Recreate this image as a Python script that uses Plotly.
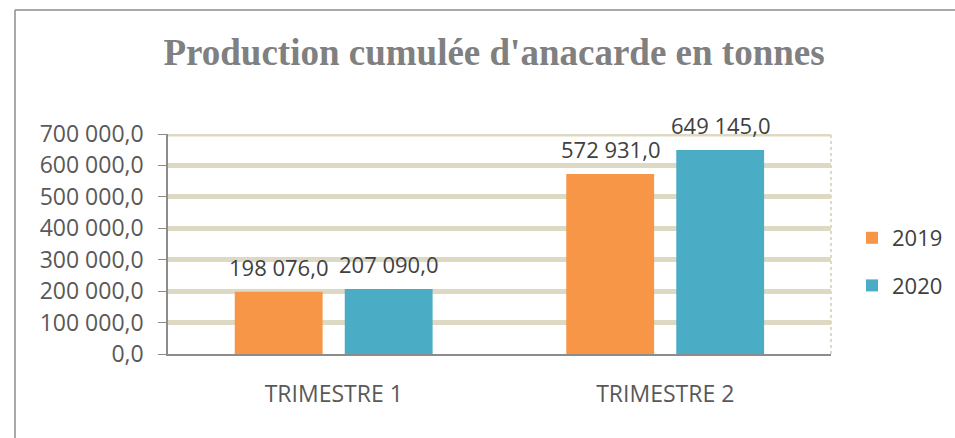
import plotly.graph_objects as go

categories = ["TRIMESTRE 1", "TRIMESTRE 2"]
series_names = ["2019", "2020"]
values_2019 = [198076.0, 572931.0]
values_2020 = [207090.0, 649145.0]
y_ticks = [0, 100000, 200000, 300000, 400000, 500000, 600000, 700000]

W, H = 955, 438
L, R, T, B = 168, 831, 134, 354

colors = ["#F79646", "#4BACC6"]
offsets = [-0.2986, 0.0332]
bar_w = 0.265
grid_color = "#DDD9C3"

fig = go.Figure()
annotations = []
for name, vals, col, off in zip(series_names, [values_2019, values_2020], colors, offsets):
    fig.add_trace(go.Bar(
        x=categories, y=vals, name=name, marker_color=col, marker_line_width=0,
        width=bar_w, offset=off, legendgroup=name,
    ))
    for i, v in enumerate(vals):
        annotations.append(dict(
            x=i + off + bar_w / 2, y=v, xref="x", yref="y",
            text=f"{v:,.1f}".replace(",", " ").replace(".", ","),
            showarrow=False, yanchor="middle", yshift=25,
            font=dict(family="Open Sans", size=22, color="#404040"),
        ))

def px_x(p):
    return (p - L) / (R - L)

def px_y(p):
    return (B - p) / (B - T)

shapes = [
    dict(type="line", xref="paper", yref="paper", x0=px_x(15), x1=px_x(15), y0=px_y(10), y1=px_y(440), line=dict(color="#8c8c8c", width=1.5)),
    dict(type="line", xref="paper", yref="paper", x0=px_x(15), x1=px_x(957), y0=px_y(10), y1=px_y(10), line=dict(color="#8c8c8c", width=1.5)),
    dict(type="line", xref="paper", yref="y", x0=0, x1=1, y0=y_ticks[-1], y1=y_ticks[-1], line=dict(color=grid_color, width=5), layer="below"),
    dict(type="line", xref="paper", yref="paper", x0=1, x1=1, y0=0, y1=1, line=dict(color=grid_color, width=2, dash="dot")),
]

fig.update_layout(
    width=W, height=H,
    margin=dict(l=L, r=W - R, t=T, b=H - B),
    paper_bgcolor="white", plot_bgcolor="white",
    separators=", ",
    barmode="overlay",
    title=dict(text="<b>Production cumulée d'anacarde en tonnes</b>",
               font=dict(family="Liberation Serif", size=37, color="#808080"),
               x=494 / W, xanchor="center", xref="container", y=1 - 52 / H, yanchor="middle", yref="container"),
    legend=dict(xref="container", yref="container", x=852 / W, y=1 - 262 / H, xanchor="left", yanchor="middle",
                font=dict(family="Open Sans", size=22, color="#404040"), tracegroupgap=16,
                traceorder="grouped", itemwidth=30),
    shapes=shapes,
    annotations=annotations,
    showlegend=True,
)
fig.update_yaxes(range=[0, 700000], tickvals=y_ticks, tickformat=",.1f",
                 showgrid=True, gridcolor=grid_color, gridwidth=5,
                 showline=True, linecolor="#8c8c8c", linewidth=1.5,
                 ticks="outside", ticklen=8, tickcolor="#8c8c8c",
                 tickfont=dict(family="Open Sans", size=23, color="#595959"),
                 ticklabelstandoff=10,
                 zeroline=False)
fig.update_xaxes(showline=True, linecolor="#8c8c8c", linewidth=2, ticks="",
                 tickfont=dict(family="Open Sans", size=23, color="#595959"),
                 ticklabelstandoff=18)

fig.write_html("out.html", config={"displayModeBar": False},
               post_script="document.body.style.margin='0';document.body.style.overflow='hidden';")
